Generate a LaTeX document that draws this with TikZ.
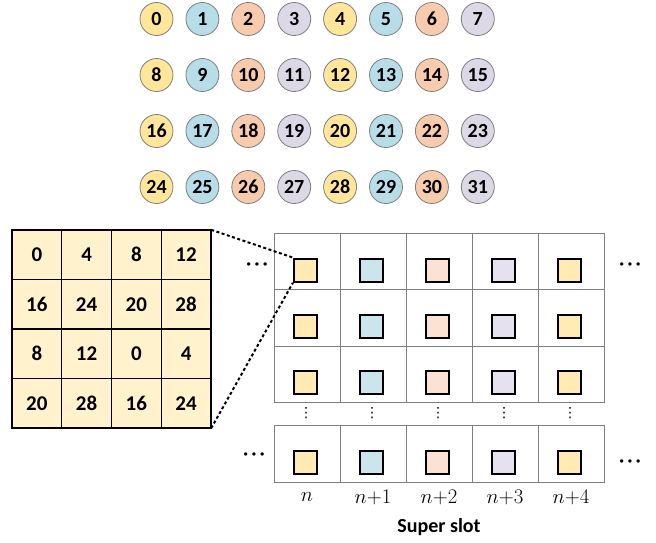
\documentclass[tikz,border=0pt]{standalone}
\usepackage{fontspec}
\setmainfont{Carlito}
\newfontfamily\symf{DejaVu Sans}
\definecolor{cY}{HTML}{FFE699}
\definecolor{cB}{HTML}{B7DDE8}
\definecolor{cP}{HTML}{F8CBAD}
\definecolor{cL}{HTML}{DCD8E6}
\definecolor{sY}{HTML}{FFEBB3}
\definecolor{sB}{HTML}{CCE5EC}
\definecolor{sP}{HTML}{FCE2D2}
\definecolor{sL}{HTML}{E6E1EE}
\definecolor{gY}{HTML}{FFF2CC}
\definecolor{lineG}{HTML}{7F7F7F}
\newcommand{\mydots}{·\kern3.5pt·\kern3.5pt·}
\tikzset{
  num/.style={circle,draw=lineG,line width=0.8pt,minimum size=33pt,inner sep=0pt,font=\bfseries\fontsize{20}{20}\selectfont},
  gcell/.style={draw=black,line width=1.2pt,fill=gY,minimum width=49.75pt,minimum height=49.5pt,inner sep=0pt,font=\bfseries\fontsize{21}{21}\selectfont},
  scell/.style={draw=lineG,line width=0.8pt,minimum width=66pt,minimum height=56.3pt,inner sep=0pt},
  sq/.style={draw=black,line width=2.2pt,minimum size=23pt,inner sep=0pt},
  hdots/.style={inner sep=0pt,font=\bfseries\fontsize{18}{18}\selectfont},
  vdotsst/.style={inner sep=0pt,font=\symf\fontsize{14}{14}\selectfont},
  conn/.style={draw=black,line width=2pt,dash pattern=on 3pt off 2.5pt},
  lab/.style={font=\fontsize{21}{21}\selectfont}
}
\begin{document}
\begin{tikzpicture}[x=1pt,y=-1pt]
\useasboundingbox (0,0) rectangle (656,542);
% circles
\foreach \r in {0,...,3}{
  \foreach \c in {0,...,7}{
    \pgfmathtruncatemacro{\v}{\r*8+\c}
    \pgfmathtruncatemacro{\m}{mod(\c,4)}
    \ifcase\m \def\cc{cY}\or \def\cc{cB}\or \def\cc{cP}\or \def\cc{cL}\fi
    \node[num,fill=\cc] (c\v) at ({156.5+45.9*\c},{19+56*\r}) {\v};
  }
}
% left grid
\node[draw=none,minimum width=199pt,minimum height=198pt,inner sep=0pt] (G) at (111.5,329) {};
\foreach \r/\vals in {0/{0,4,8,12},1/{16,24,20,28},2/{8,12,0,4},3/{20,28,16,24}}{
  \foreach \v [count=\c from 0] in \vals {
    \node[gcell] (g\r\c) at ({12+49.75*\c+24.875},{230+49.5*\r+24.75}) {\v};
  }
}
\draw[line width=2pt] (G.north west) rectangle (G.south east);
% right grid
\foreach \r/\y in {0/261.65,1/317.95,2/374.25,3/454.0}{
  \foreach \c in {0,...,4}{
    \pgfmathtruncatemacro{\m}{mod(\c,4)}
    \ifcase\m \def\cc{sY}\or \def\cc{sB}\or \def\cc{sP}\or \def\cc{sL}\fi
    \node[scell] (s\r\c) at ({274+66*\c+33},\y) {};
    \node[sq,fill=\cc] (q\r\c) at ({274+66*\c+31.5},{\y+8.5}) {};
  }
}
% vertical dots
\foreach \c in {0,...,4}{
  \node[vdotsst] (v\c) at ({274+66*\c+32},413) {⋮};
}
% horizontal dots
\node[hdots] (d1) at (257,266) {\mydots};
\node[hdots] (d2) at (630,266) {\mydots};
\node[hdots] (d3) at (254,456) {\mydots};
\node[hdots] (d4) at (630,463) {\mydots};
% dashed connectors
\draw[conn] (G.north east) -- (q00.north west);
\draw[conn] (G.south east) -- (q00.south west);
% labels
\node[lab] (n0) at (307,497) {$n$};
\node[lab] (n1) at (373,497) {$n{+}1$};
\node[lab] (n2) at (439,497) {$n{+}2$};
\node[lab] (n3) at (505,497) {$n{+}3$};
\node[lab] (n4) at (571,497) {$n{+}4$};
\node[font=\bfseries\fontsize{20}{20}\selectfont] (ss) at (439,527) {Super slot};
\end{tikzpicture}
\end{document}
